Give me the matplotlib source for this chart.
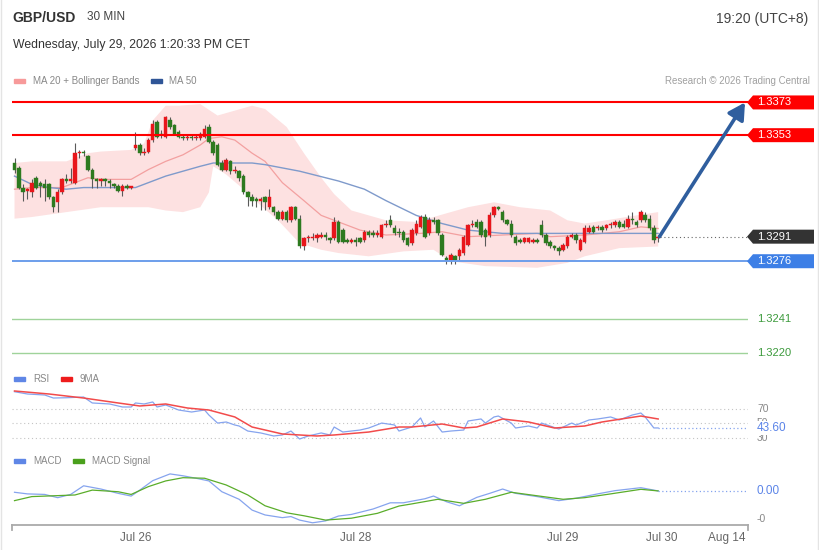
import numpy as np
import matplotlib
matplotlib.use("Agg")
import matplotlib.pyplot as plt
from matplotlib.patches import Polygon, Rectangle
from matplotlib.lines import Line2D
from matplotlib.transforms import blended_transform_factory

plt.rcParams["font.family"] = ["Liberation Sans", "DejaVu Sans"]

# ---------------- data (30 min GBP/USD bars) ----------------
opens = [
    1.3336, 1.3333, 1.3321, 1.3319, 1.3318, 1.3327, 1.3324, 1.3323, 1.3323, 1.3315,
    1.3312, 1.3318, 1.3326, 1.3325, 1.3324, 1.3342, 1.3343, 1.3340, 1.3332, 1.3326,
    1.3325, 1.3326, 1.3325, 1.3323, 1.3322, 1.3319, 1.3322, 1.3321, 1.3345, 1.3347,
    1.3342, 1.3343, 1.3350, 1.3361, 1.3354, 1.3352, 1.3362, 1.3359, 1.3355, 1.3352,
    1.3351, 1.3352, 1.3351, 1.3351, 1.3352, 1.3358, 1.3349, 1.3347, 1.3336, 1.3332,
    1.3337, 1.3331, 1.3331, 1.3328, 1.3318, 1.3315, 1.3314, 1.3313, 1.3315, 1.3309,
    1.3309, 1.3306, 1.3302, 1.3306, 1.3301, 1.3309, 1.3302, 1.3285, 1.3290, 1.3290,
    1.3290, 1.3291, 1.3292, 1.3290, 1.3290, 1.3300, 1.3295, 1.3289, 1.3288, 1.3289,
    1.3290, 1.3289, 1.3294, 1.3293, 1.3292, 1.3291, 1.3298, 1.3301, 1.3296, 1.3294,
    1.3294, 1.3290, 1.3287, 1.3293, 1.3297, 1.3303, 1.3293, 1.3301, 1.3301, 1.3292,
    1.3278, 1.3277, 1.3279, 1.3279, 1.3281, 1.3286, 1.3298, 1.3300, 1.3300, 1.3295,
    1.3292, 1.3304, 1.3309, 1.3306, 1.3301, 1.3299, 1.3291, 1.3289, 1.3288, 1.3288,
    1.3288, 1.3289, 1.3298, 1.3292, 1.3288, 1.3285, 1.3284, 1.3283, 1.3285, 1.3291,
    1.3292, 1.3283, 1.3288, 1.3294, 1.3297, 1.3296, 1.3297, 1.3296, 1.3298, 1.3298,
    1.3300, 1.3299, 1.3297, 1.3302, 1.3300, 1.3301, 1.3304, 1.3302, 1.3296, 1.3290,
]
highs = [
    1.3339, 1.3334, 1.3323, 1.3321, 1.3326, 1.3328, 1.3325, 1.3326, 1.3324, 1.3316,
    1.3320, 1.3327, 1.3329, 1.3333, 1.3348, 1.3344, 1.3344, 1.3341, 1.3333, 1.3327,
    1.3327, 1.3327, 1.3326, 1.3324, 1.3323, 1.3323, 1.3323, 1.3322, 1.3355, 1.3348,
    1.3345, 1.3351, 1.3362, 1.3362, 1.3356, 1.3365, 1.3364, 1.3360, 1.3356, 1.3353,
    1.3353, 1.3353, 1.3354, 1.3355, 1.3359, 1.3360, 1.3350, 1.3348, 1.3338, 1.3339,
    1.3338, 1.3334, 1.3332, 1.3329, 1.3319, 1.3317, 1.3315, 1.3315, 1.3316, 1.3320,
    1.3310, 1.3307, 1.3307, 1.3307, 1.3310, 1.3310, 1.3304, 1.3291, 1.3292, 1.3293,
    1.3293, 1.3294, 1.3294, 1.3291, 1.3303, 1.3301, 1.3296, 1.3290, 1.3290, 1.3291,
    1.3291, 1.3295, 1.3295, 1.3295, 1.3295, 1.3299, 1.3301, 1.3304, 1.3298, 1.3296,
    1.3295, 1.3291, 1.3296, 1.3301, 1.3304, 1.3305, 1.3303, 1.3303, 1.3302, 1.3293,
    1.3279, 1.3281, 1.3280, 1.3284, 1.3292, 1.3299, 1.3301, 1.3302, 1.3301, 1.3296,
    1.3306, 1.3310, 1.3310, 1.3307, 1.3302, 1.3301, 1.3292, 1.3290, 1.3291, 1.3291,
    1.3290, 1.3290, 1.3301, 1.3293, 1.3289, 1.3286, 1.3285, 1.3287, 1.3292, 1.3293,
    1.3293, 1.3290, 1.3298, 1.3298, 1.3298, 1.3298, 1.3298, 1.3299, 1.3300, 1.3301,
    1.3301, 1.3301, 1.3304, 1.3306, 1.3301, 1.3307, 1.3306, 1.3304, 1.3298, 1.3292,
]
lows = [
    1.3330, 1.3320, 1.3313, 1.3314, 1.3315, 1.3320, 1.3315, 1.3313, 1.3314, 1.3306,
    1.3306, 1.3317, 1.3324, 1.3324, 1.3323, 1.3339, 1.3340, 1.3331, 1.3321, 1.3321,
    1.3322, 1.3322, 1.3321, 1.3321, 1.3318, 1.3316, 1.3320, 1.3320, 1.3344, 1.3341,
    1.3341, 1.3342, 1.3349, 1.3351, 1.3351, 1.3351, 1.3357, 1.3353, 1.3351, 1.3350,
    1.3350, 1.3350, 1.3350, 1.3350, 1.3351, 1.3348, 1.3341, 1.3334, 1.3331, 1.3331,
    1.3329, 1.3330, 1.3325, 1.3317, 1.3310, 1.3310, 1.3309, 1.3307, 1.3307, 1.3308,
    1.3304, 1.3301, 1.3301, 1.3300, 1.3300, 1.3301, 1.3284, 1.3283, 1.3288, 1.3289,
    1.3288, 1.3290, 1.3289, 1.3287, 1.3289, 1.3287, 1.3287, 1.3287, 1.3287, 1.3285,
    1.3287, 1.3288, 1.3291, 1.3291, 1.3291, 1.3290, 1.3297, 1.3297, 1.3292, 1.3291,
    1.3288, 1.3285, 1.3286, 1.3292, 1.3296, 1.3290, 1.3292, 1.3299, 1.3292, 1.3279,
    1.3274, 1.3274, 1.3274, 1.3276, 1.3280, 1.3285, 1.3297, 1.3296, 1.3291, 1.3285,
    1.3291, 1.3303, 1.3307, 1.3300, 1.3298, 1.3291, 1.3286, 1.3287, 1.3287, 1.3287,
    1.3287, 1.3287, 1.3291, 1.3286, 1.3284, 1.3283, 1.3280, 1.3282, 1.3284, 1.3290,
    1.3287, 1.3282, 1.3287, 1.3293, 1.3293, 1.3295, 1.3294, 1.3295, 1.3296, 1.3297,
    1.3296, 1.3296, 1.3296, 1.3299, 1.3297, 1.3300, 1.3300, 1.3295, 1.3287, 1.3288,
]
closes = [
    1.3332, 1.3321, 1.3318, 1.3320, 1.3324, 1.3321, 1.3322, 1.3321, 1.3315, 1.3309,
    1.3318, 1.3326, 1.3325, 1.3326, 1.3342, 1.3343, 1.3342, 1.3332, 1.3326, 1.3325,
    1.3326, 1.3325, 1.3324, 1.3322, 1.3319, 1.3322, 1.3321, 1.3321, 1.3347, 1.3342,
    1.3343, 1.3350, 1.3360, 1.3352, 1.3353, 1.3364, 1.3358, 1.3354, 1.3352, 1.3351,
    1.3352, 1.3351, 1.3352, 1.3354, 1.3357, 1.3349, 1.3342, 1.3335, 1.3332, 1.3338,
    1.3331, 1.3332, 1.3327, 1.3318, 1.3315, 1.3313, 1.3313, 1.3314, 1.3312, 1.3315,
    1.3306, 1.3302, 1.3306, 1.3301, 1.3309, 1.3302, 1.3285, 1.3290, 1.3291, 1.3291,
    1.3292, 1.3292, 1.3291, 1.3289, 1.3300, 1.3288, 1.3288, 1.3288, 1.3289, 1.3288,
    1.3288, 1.3294, 1.3292, 1.3292, 1.3293, 1.3298, 1.3299, 1.3298, 1.3293, 1.3293,
    1.3289, 1.3286, 1.3295, 1.3299, 1.3303, 1.3291, 1.3301, 1.3300, 1.3293, 1.3280,
    1.3276, 1.3280, 1.3277, 1.3283, 1.3291, 1.3298, 1.3299, 1.3297, 1.3292, 1.3291,
    1.3304, 1.3309, 1.3308, 1.3301, 1.3299, 1.3292, 1.3287, 1.3288, 1.3290, 1.3290,
    1.3289, 1.3288, 1.3292, 1.3287, 1.3285, 1.3284, 1.3282, 1.3286, 1.3291, 1.3292,
    1.3289, 1.3289, 1.3296, 1.3296, 1.3294, 1.3297, 1.3295, 1.3298, 1.3299, 1.3300,
    1.3297, 1.3297, 1.3302, 1.3301, 1.3298, 1.3306, 1.3301, 1.3296, 1.3289, 1.3291,
]

# moving averages / Bollinger bands sampled at bar indices
ma20_idx = [0, 4, 8, 11, 14, 17, 20, 24, 27, 31, 35, 39, 43, 45, 48, 51, 55, 58, 62, 67,
            71, 74, 80, 86, 94, 99, 105, 113, 121, 124, 132, 140, 145, 149]
ma20 = [1.3320, 1.3321, 1.3321, 1.3321, 1.3324, 1.3327, 1.3326, 1.3326, 1.3326, 1.3332,
        1.3337, 1.3341, 1.3347, 1.3351, 1.3352, 1.3350, 1.3342, 1.3337, 1.3324, 1.3313,
        1.3304, 1.3301, 1.3295, 1.3292, 1.3293, 1.3294, 1.3291, 1.3292, 1.3293, 1.3291,
        1.3292, 1.3294, 1.3297, 1.3296]
ma50_idx = [0, 4, 8, 12, 16, 20, 24, 28, 31, 35, 39, 43, 46, 51, 55, 58, 66, 72, 75, 81,
            86, 93, 99, 105, 113, 128, 144, 149]
ma50 = [1.3328, 1.3323, 1.3321, 1.3320, 1.3321, 1.3321, 1.3321, 1.3321, 1.3324, 1.3328,
        1.3331, 1.3334, 1.3336, 1.3336, 1.3336, 1.3335, 1.3331, 1.3327, 1.3325, 1.3320,
        1.3313, 1.3304, 1.3299, 1.3295, 1.3293, 1.3293, 1.3293, 1.3293]
bb_up_idx = [0, 4, 12, 17, 20, 27, 30, 32, 35, 38, 43, 47, 51, 55, 58, 63, 67, 71, 74, 78,
             86, 93, 97, 105, 111, 117, 124, 128, 132, 137, 144, 149]
bb_up = [1.3336, 1.3337, 1.3337, 1.3342, 1.3343, 1.3344, 1.3348, 1.3362, 1.3371, 1.3371,
         1.3372, 1.3365, 1.3368, 1.3371, 1.3369, 1.3358, 1.3342, 1.3327, 1.3317, 1.3307,
         1.3301, 1.3300, 1.3303, 1.3309, 1.3312, 1.3309, 1.3307, 1.3301, 1.3299, 1.3301,
         1.3304, 1.3306]
bb_lo_idx = [0, 4, 12, 20, 27, 31, 35, 39, 43, 45, 46, 49, 53, 57, 61, 66, 71, 75, 82, 90,
             97, 101, 109, 121, 128, 132, 140, 149]
bb_lo = [1.3302, 1.3303, 1.3306, 1.3309, 1.3309, 1.3309, 1.3307, 1.3306, 1.3309, 1.3318,
         1.3334, 1.3329, 1.3320, 1.3310, 1.3301, 1.3287, 1.3283, 1.3281, 1.3279, 1.3282,
         1.3283, 1.3276, 1.3273, 1.3272, 1.3275, 1.3279, 1.3284, 1.3285]

resistances = [1.3373, 1.3353]
pivot = 1.3276
supports = [1.3241, 1.3220]
target = 1.3373

# RSI(14) and its 9-period MA
rsi_idx = [0, 3, 7, 9, 12, 16, 18, 22, 25, 27, 28, 30, 32, 33, 35, 38, 41, 44, 45, 47,
           49, 51, 52, 54, 57, 60, 62, 64, 66, 68, 71, 73, 74, 76, 80, 82, 85, 88, 89, 92,
           94, 95, 97, 99, 101, 104, 105, 108, 109, 111, 112, 115, 116, 119, 121, 122, 126, 129, 130, 133,
           135, 138, 140, 143, 145, 146, 148, 149]
rsi = [94.1, 90.9, 89.5, 85.3, 85.7, 86.7, 78.4, 77.0, 72.8, 72.8, 78.4, 77.0, 79.8, 72.8, 75.6, 68.6, 65.8, 68.6, 61.6, 50.4,
       51.9, 47.7, 46.3, 39.3, 36.6, 32.4, 33.8, 39.3, 28.2, 32.4, 36.6, 33.8, 44.9, 37.9, 40.7, 43.5, 50.4, 47.7, 39.3, 44.9,
       57.5, 44.9, 53.3, 37.9, 39.3, 40.7, 53.3, 56.1, 50.4, 58.9, 60.2, 50.4, 43.5, 46.3, 43.5, 50.4, 42.1, 50.4, 47.7, 54.7,
       56.1, 58.9, 54.7, 61.6, 64.4, 58.9, 43.6, 43.6]
rsi_ma_idx = [0, 8, 16, 24, 29, 35, 40, 45, 51, 55, 62, 70, 74, 82, 89, 92, 99, 104, 107, 113,
              119, 125, 132, 136, 142, 145, 149]
rsi_ma = [95.1, 90.9, 85.3, 78.4, 74.2, 77.0, 71.4, 68.6, 58.9, 44.9, 35.2, 32.4, 33.8, 37.9, 44.9, 44.9, 49.1, 43.5, 44.9, 56.1,
          51.9, 43.5, 46.3, 51.9, 57.5, 60.2, 56.1]
rsi_levels = [70, 50, 30]

# MACD and signal
macd_idx = [0, 3, 7, 10, 13, 16, 20, 24, 27, 29, 32, 36, 39, 42, 45, 48, 52, 55, 58, 62,
            64, 66, 69, 72, 75, 78, 83, 87, 90, 95, 97, 100, 103, 107, 110, 113, 116, 121, 126, 130,
            135, 139, 145, 149]
macd = [-0.00001, -0.00007, -0.00009, -0.00021, -0.00009, 0.00023, 0.00011, -0.00005, -0.00015, 0.00007,
        0.00042, 0.00067, 0.00060, 0.00051, 0.00041, 0.00001, -0.00027, -0.00067, -0.00085, -0.00095,
        -0.00091, -0.00104, -0.00114, -0.00107, -0.00089, -0.00083, -0.00063, -0.00040, -0.00040, -0.00025,
        -0.00015, -0.00036, -0.00051, -0.00020, -0.00005, 0.00011, -0.00005, -0.00017, -0.00032, -0.00023,
        -0.00007, 0.00005, 0.00016, 0.00004]
signal_idx = [0, 4, 9, 14, 18, 24, 27, 31, 35, 39, 44, 49, 54, 58, 63, 67, 72, 78, 84, 89,
              92, 98, 104, 109, 115, 121, 127, 132, 138, 145, 149]
signal = [-0.00032, -0.00017, -0.00014, -0.00011, 0.00007, 0.00001, -0.00009, 0.00020, 0.00041, 0.00053,
          0.00051, 0.00026, -0.00011, -0.00051, -0.00077, -0.00088, -0.00104, -0.00097, -0.00079, -0.00052,
          -0.00044, -0.00027, -0.00042, -0.00027, -0.00001, -0.00014, -0.00027, -0.00021, -0.00007, 0.00010,
          0.00004]

tick_pos = [28.1, 79.0, 126.9, 149.9, 164.9]
tick_labels = ["Jul 26", "Jul 28", "Jul 29", "Jul 30", "Aug 14"]

# ---------------- layout helpers (pixel based) ----------------
FW, FH = 820, 550
fig = plt.figure(figsize=(FW / 100, FH / 100), dpi=100)
fig.patch.set_facecolor("white")

def fx(px):
    return px / FW

def fy(py):
    return 1 - py / FH

L, R = 12, 748
XLIM = (-0.58, 169.8)

def axx(px):
    return (px - L) / (R - L)

def panel(top, bottom):
    a = fig.add_axes([fx(L), fy(bottom), (R - L) / FW, (bottom - top) / FH])
    a.set_xlim(*XLIM)
    a.set_facecolor("none")
    for s in a.spines.values():
        s.set_visible(False)
    a.set_xticks([])
    a.set_yticks([])
    return a

# ---------------- price panel ----------------
ax = panel(90, 365)
ax.set_ylim(1.32126, 1.33806)
PX = (1.33806 - 1.32126) / 275      # price per pixel
tr = blended_transform_factory(ax.transAxes, ax.transData)

bx = list(bb_up_idx) + list(bb_lo_idx)[::-1]
by = list(bb_up) + list(bb_lo)[::-1]
ax.fill(bx, by, color="#fde1e1", lw=0, zorder=1)
ax.plot(ma20_idx, ma20, color="#f3a0a0", lw=0.9, zorder=2)
ax.plot(ma50_idx, ma50, color="#7f9acb", lw=1.0, zorder=2)

o, h, l, c = map(np.array, (opens, highs, lows, closes))
idx = np.arange(len(c))
col = np.where(c >= o, "#e8161b", "#2d7a1f")
ax.vlines(idx, l, h, color="#5a5a5a", lw=0.8, zorder=3)
body = np.maximum(np.abs(c - o), PX * 1.3)
ax.bar(idx, body, bottom=np.minimum(o, c), width=0.8, color=col,
       edgecolor=col, lw=0.3, zorder=4)

def tag(level, color):
    hh = 7 * PX
    pts = [(axx(747), level), (axx(753), level + hh), (axx(814), level + hh),
           (axx(814), level - hh), (axx(753), level - hh)]
    ax.add_patch(Polygon(pts, closed=True, transform=tr, facecolor=color,
                         edgecolor="none", clip_on=False, zorder=6))
    ax.text(axx(757), level, f"{level:.4f}", transform=tr, color="white",
            fontsize=8, va="center", ha="left", clip_on=False, zorder=7)

for lv in resistances:
    ax.axhline(lv, color="#ff0000", lw=1.5, zorder=5)
    tag(lv, "#ff0000")

ax.axhline(pivot, color="#6d9eeb", lw=1.4, zorder=5)
tag(pivot, "#3d7fe6")

for lv in supports:
    ax.axhline(lv, color="#9fd39a", lw=1.0, zorder=5)
    ax.text(axx(757), lv, f"{lv:.4f}", transform=tr, color="#3c9a3c",
            fontsize=8, va="center", ha="left", clip_on=False)

last = closes[-1]
ax.plot([idx[-1] + 0.5, XLIM[1]], [last, last], color="#666666", lw=0.8,
        ls=(0, (1, 2.5)), zorder=5)
tag(last, "#333333")

ax.annotate("", xy=(axx(745), target), xycoords=tr,
            xytext=(idx[-1] + 0.3, last), textcoords="data",
            arrowprops=dict(arrowstyle="-|>,head_length=0.9,head_width=0.5",
                            color="#2f5e9e", lw=2.6, shrinkA=0, shrinkB=0,
                            mutation_scale=11),
            zorder=8, annotation_clip=False)

# ---------------- RSI panel ----------------
ar = panel(385, 445)
ar.set_ylim(19.83, 103.45)
tr_r = blended_transform_factory(ar.transAxes, ar.transData)
for lv in rsi_levels:
    ar.axhline(lv, color="#c4c4c4", lw=0.8, ls=(0, (1, 2.5)))
    ar.text(axx(757), lv, str(lv), transform=tr_r, color="#888888", fontsize=7.5,
            va="center", ha="left", clip_on=False)
ar.plot(rsi_idx, rsi, color="#86a4ee", lw=0.9)
ar.plot(rsi_ma_idx, rsi_ma, color="#f24b4b", lw=1.1)
ar.plot([rsi_idx[-1], XLIM[1]], [rsi[-1], rsi[-1]], color="#86a4ee", lw=0.9,
        ls=(0, (1, 2)))
# current RSI value sits over the "50" level label, as in the source chart
ar.text(axx(757), rsi[-1], f"{rsi[-1]:.2f}", transform=tr_r, color="#5b84e8",
        fontsize=8.5, va="center", ha="left", clip_on=False,
        bbox=dict(fc="white", ec="none", pad=0.6))

# ---------------- MACD panel ----------------
am = panel(465, 525)
am.set_ylim(-0.001222, 0.001)
tr_m = blended_transform_factory(am.transAxes, am.transData)
am.plot(macd_idx, macd, color="#86a4ee", lw=0.9)
am.plot(signal_idx, signal, color="#5aad2a", lw=0.9)
am.plot([macd_idx[-1], XLIM[1]], [macd[-1], macd[-1]], color="#86a4ee", lw=0.9,
        ls=(0, (1, 2)))
am.text(axx(757), macd[-1], f"{abs(macd[-1]):.2f}", transform=tr_m, color="#5b84e8",
        fontsize=8.5, va="center", ha="left", clip_on=False)
am.text(axx(757), -0.001, "-0", transform=tr_m, color="#888888", fontsize=7.5,
        va="center", ha="left", clip_on=False)

am.spines["bottom"].set_visible(True)
am.spines["bottom"].set_color("#aaaaaa")
am.spines["bottom"].set_linewidth(1.3)
am.set_xticks(tick_pos, tick_labels)
am.tick_params(axis="x", length=0, pad=5, labelsize=8.5, labelcolor="#666666")
for xa in (0, 1):
    am.plot([xa, xa], [0, -0.09], transform=am.transAxes, color="#aaaaaa",
            lw=1.3, clip_on=False)

# ---------------- header, legends, frame ----------------
fig.text(fx(12), fy(17.5), "GBP/USD", fontsize=10, fontweight="bold",
         color="#333333", va="center", ha="left")
fig.text(fx(87), fy(17), "30 MIN", fontsize=8.5, color="#444444",
         va="center", ha="left")
fig.text(fx(808), fy(19), "19:20 (UTC+8)", fontsize=10, color="#444444",
         va="center", ha="right")
fig.text(fx(13), fy(45), "Wednesday, July 29, 2026 1:20:33 PM CET", fontsize=8.8,
         color="#333333", va="center", ha="left")
fig.text(fx(810), fy(81), "Research \u00a9 2026 Trading Central", fontsize=7,
         color="#a0a0a0", va="center", ha="right")

def legend_item(x0, y, color, label, text_x):
    fig.add_artist(Rectangle((fx(x0), fy(y + 1.8)), 11 / FW, 3.6 / FH,
                             color=color, transform=fig.transFigure))
    fig.text(fx(text_x), fy(y), label, fontsize=7, color="#888888",
             va="center", ha="left")

legend_item(14, 81, "#f79a9a", "MA 20 + Bollinger Bands", 33)
legend_item(151, 81, "#2f5597", "MA 50", 169)
legend_item(14, 379, "#5f86e6", "RSI", 33)
legend_item(61, 379, "#ee1c1c", "9MA", 80)
legend_item(14, 461, "#5f86e6", "MACD", 33)
legend_item(73, 461, "#4aa01c", "MACD Signal", 92)

for xp in (1.5, 818):
    fig.add_artist(Line2D([fx(xp), fx(xp)], [0, 1], color="#e4e4e4", lw=1,
                          transform=fig.transFigure))

fig.savefig("out.png", dpi=100, facecolor="white")
